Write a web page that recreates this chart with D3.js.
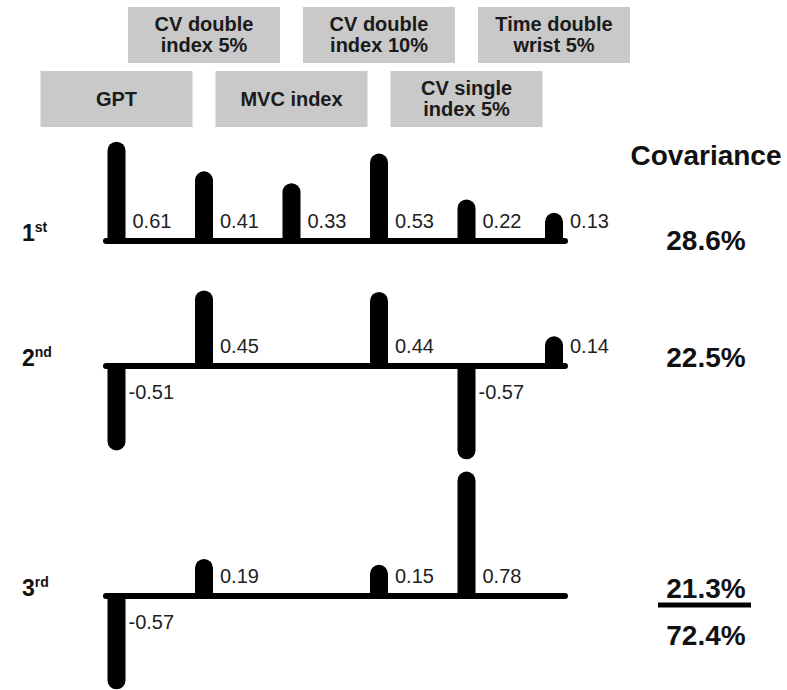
<!DOCTYPE html>
<html>
<head>
<meta charset="utf-8">
<script src="https://cdn.jsdelivr.net/npm/d3@7"></script>
<style>
  body { margin: 0; background: #fff; }
  text { font-family: Arial, "Liberation Sans", sans-serif; }
</style>
</head>
<body>
<div id="chart"></div>
<script>
// variables, in the order of the bars
const categories = ["GPT", "CV double index 5%", "MVC index", "CV double index 10%", "CV single index 5%", "Time double wrist 5%"];
const boxLines = [["GPT"], ["CV double", "index 5%"], ["MVC index"], ["CV double", "index 10%"], ["CV single", "index 5%"], ["Time double", "wrist 5%"]];

// loadings per component (null = not shown)
const loadings1 = [0.61, 0.41, 0.33, 0.53, 0.22, 0.13];
const loadings2 = [-0.51, 0.45, null, 0.44, -0.57, 0.14];
const loadings3 = [-0.57, 0.19, null, 0.15, 0.78, null];

const componentNum = ["1", "2", "3"];
const componentSup = ["st", "nd", "rd"];
const covariance = ["28.6%", "22.5%", "21.3%"];
const totalCovariance = "72.4%";

const width = 787, height = 690;
const rowY = [241, 366, 596];
const barW = 18, r = barW / 2;

const svg = d3.select("#chart")
  .append("svg")
  .attr("width", width)
  .attr("height", height);

const x = d3.scalePoint()
  .domain(categories)
  .range([116.5, 554]);

// length of a bar (straight part), px per loading unit
const len = d3.scaleLinear()
  .domain([0, 1])
  .range([0, 148]);

// header boxes, staggered in two rows
const boxW = 152, boxH = 56;
const boxes = svg.append("g")
  .selectAll("g")
  .data(categories)
  .join("g")
  .attr("transform", (d, i) => `translate(${x(d)},${i % 2 ? 7 : 71})`);

boxes.append("rect")
  .attr("x", -boxW / 2)
  .attr("width", boxW)
  .attr("height", boxH)
  .attr("fill", "#c9c9c9");

boxes.each(function(d, i) {
  const lines = boxLines[i];
  const g = d3.select(this);
  lines.forEach((t, j) => {
    const y0 = lines.length === 1 ? 35 : 24 + j * 21;
    g.append("text")
      .attr("y", y0)
      .attr("text-anchor", "middle")
      .attr("font-size", 20)
      .attr("font-weight", "bold")
      .attr("fill", "#1a1a1a")
      .text(t);
  });
});

function barPath(cx, y0, v) {
  const s = v > 0 ? -1 : 1;
  const yEnd = y0 + s * len(Math.abs(v));
  const xl = cx - r, xr = cx + r;
  return `M${xl},${y0} L${xl},${yEnd} A${r},${r} 0 0 ${v > 0 ? 1 : 0} ${xr},${yEnd} L${xr},${y0} Z`;
}

[loadings1, loadings2, loadings3].forEach((vals, k) => {
  const y0 = rowY[k];
  const data = categories.map((c, i) => ({ c, v: vals[i] })).filter(d => d.v !== null);
  const row = svg.append("g");

  row.selectAll("path.bar")
    .data(data)
    .join("path")
    .attr("class", "bar")
    .attr("d", d => barPath(x(d.c), y0, d.v))
    .attr("fill", "#000");

  row.append("line")
    .attr("x1", 106)
    .attr("x2", 565)
    .attr("y1", y0)
    .attr("y2", y0)
    .attr("stroke", "#000")
    .attr("stroke-width", 6)
    .attr("stroke-linecap", "round");

  row.selectAll("text.val")
    .data(data)
    .join("text")
    .attr("class", "val")
    .attr("x", d => x(d.c) + (d.v > 0 ? 16 : 12))
    .attr("y", d => d.v > 0 ? y0 - 13 : y0 + 33)
    .attr("font-size", 20)
    .attr("fill", "#222")
    .text(d => d.v.toFixed(2));

  const lab = row.append("text")
    .attr("x", 22)
    .attr("y", y0)
    .attr("font-weight", "bold")
    .attr("fill", "#111");
  lab.append("tspan").attr("font-size", 23).text(componentNum[k]);
  lab.append("tspan").attr("font-size", 14).attr("dy", -9).text(componentSup[k]);
});

// covariance column
const cx = 706;
svg.append("text")
  .attr("x", cx).attr("y", 165)
  .attr("text-anchor", "middle")
  .attr("font-size", 28)
  .attr("font-weight", "bold")
  .attr("fill", "#111")
  .text("Covariance");

svg.selectAll("text.cov")
  .data(covariance)
  .join("text")
  .attr("class", "cov")
  .attr("x", cx)
  .attr("y", (d, i) => [250, 367, 598][i])
  .attr("text-anchor", "middle")
  .attr("font-size", 28)
  .attr("font-weight", "bold")
  .attr("fill", "#111")
  .text(d => d);

svg.append("line")
  .attr("x1", 658).attr("x2", 751)
  .attr("y1", 605).attr("y2", 605)
  .attr("stroke", "#000")
  .attr("stroke-width", 5);

svg.append("text")
  .attr("x", cx).attr("y", 645)
  .attr("text-anchor", "middle")
  .attr("font-size", 28)
  .attr("font-weight", "bold")
  .attr("fill", "#111")
  .text(totalCovariance);
</script>
</body>
</html>
